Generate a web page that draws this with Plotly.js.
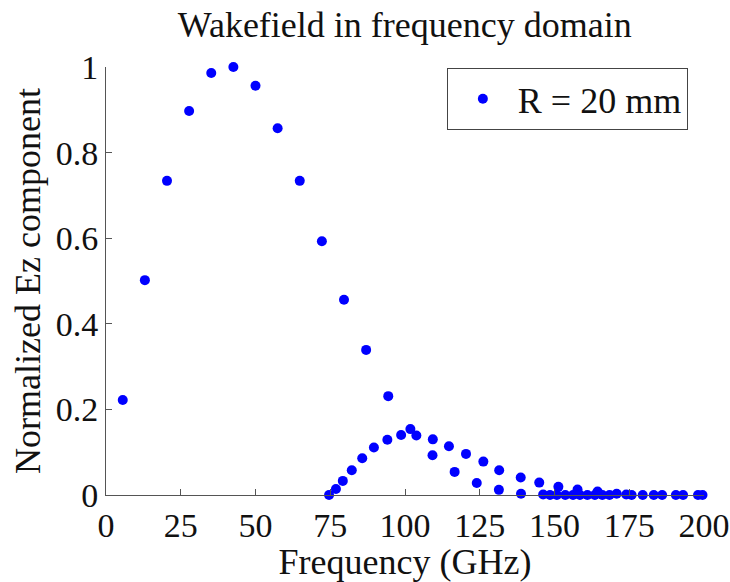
<!DOCTYPE html>
<html>
<head>
<meta charset="utf-8">
<script src="https://cdn.plot.ly/plotly-3.0.1.min.js"></script>
<style>
  html, body { margin: 0; padding: 0; background: #fff; }
  #chart { width: 730px; height: 582px; }
  #fx { position: fixed; left: 0; top: 0; width: 730px; font: 11px monospace; color: transparent; white-space: pre-wrap; pointer-events: none; }
</style>
</head>
<body>
<div id="chart"></div>
<div id="fx"></div>
<script>
// Main bell (evenly spaced frequency samples)
const freqMain = [5.6, 13.0, 20.4, 27.8, 35.2, 42.6, 50.0, 57.4, 64.8, 72.2, 79.6, 87.0, 94.4,
                  101.8, 109.2, 116.6, 124.0, 131.4, 138.8, 146.2, 153.6, 161.0, 168.4, 175.8, 183.2, 190.6, 198.0];
const valMain  = [0.222, 0.502, 0.734, 0.897, 0.986, 1.0, 0.956, 0.857, 0.734, 0.593, 0.456, 0.339, 0.231,
                  0.154, 0.093, 0.054, 0.028, 0.012, 0.003, 0.001, 0.0, 0.0, 0.0, 0.0, 0.0, 0.0, 0.0];
// Second, smaller bump starting near 75 GHz
const freqSecond = [74.6, 76.9, 79.2, 82.2, 85.7, 89.6, 94.1, 98.7, 103.8, 109.3, 114.7, 120.4, 126.2, 131.5,
                    138.7, 144.9, 151.3, 157.7, 164.4, 170.8, 174.0, 179.5, 186.0, 193.0, 199.5];
const valSecond  = [0.0, 0.014, 0.033, 0.058, 0.086, 0.111, 0.129, 0.140, 0.139, 0.130, 0.114, 0.096, 0.078, 0.058,
                    0.041, 0.029, 0.019, 0.013, 0.008, 0.003, 0.001, 0.0, 0.0, 0.0, 0.0];
// Near-zero tail points crowding the baseline
const freqTail = [148.5, 150.8, 156.2, 158.5, 163.5, 166.0];
const valTail  = [0.0, 0.0, 0.0, 0.0, 0.0, 0.0];

const xTicks = [0, 25, 50, 75, 100, 125, 150, 175, 200];
const yTicks = [0, 0.2, 0.4, 0.6, 0.8, 1];
const yTickText = ['0', '0.2', '0.4', '0.6', '0.8', '1'];

const seriesName = 'R = 20 mm';
const titleText = 'Wakefield in frequency domain';
const xTitle = 'Frequency (GHz)';
const yTitle = 'Normalized Ez component';

const FONT = 'Liberation Serif';
const axisColor = '#555';
const textColor = '#111';

const trace = {
  x: freqMain.concat(freqSecond, freqTail),
  y: valMain.concat(valSecond, valTail),
  type: 'scatter',
  mode: 'markers',
  name: seriesName,
  marker: { color: '#0000ff', size: 10 },
  cliponaxis: false,
  showlegend: true
};

const layout = {
  width: 730,
  height: 582,
  margin: { l: 106, r: 26, t: 67, b: 87, pad: 0 },
  paper_bgcolor: '#fff',
  plot_bgcolor: '#fff',
  font: { family: FONT, size: 36, color: textColor },
  title: {
    text: titleText,
    font: { family: FONT, size: 36, color: textColor },
    x: 0.5545, xanchor: 'center',
    y: 0.958, yanchor: 'middle'
  },
  xaxis: {
    range: [0, 200],
    tickvals: xTicks,
    ticktext: xTicks.map(String),
    ticks: 'inside', ticklen: 6, tickwidth: 1, tickcolor: axisColor,
    showline: true, linecolor: axisColor, linewidth: 1,
    mirror: false, showgrid: false, zeroline: false,
    tickfont: { family: FONT, size: 34, color: textColor },
    title: { text: xTitle, font: { family: FONT, size: 36, color: textColor }, standoff: 0 }
  },
  yaxis: {
    range: [0, 1],
    tickvals: yTicks,
    ticktext: yTickText,
    ticks: 'inside', ticklen: 6, tickwidth: 1, tickcolor: axisColor,
    showline: true, linecolor: axisColor, linewidth: 1,
    mirror: false, showgrid: false, zeroline: false,
    tickfont: { family: FONT, size: 34, color: textColor },
    title: { text: yTitle, font: { family: FONT, size: 36, color: textColor }, standoff: 4 }
  },
  legend: {
    x: 0.570, y: 0.998, xanchor: 'left', yanchor: 'top',
    itemwidth: 60,
    bgcolor: '#fff', bordercolor: '#444', borderwidth: 1,
    font: { family: FONT, size: 36, color: textColor }
  },
  showlegend: true
};

Plotly.newPlot('chart', [trace], layout, { displayModeBar: false }).then(function () {
  const sels = ['.gtitle', '.xtick text', '.g-xtitle text', '.legendtext', '.ytick text', '.g-ytitle text'];
  sels.forEach(function (s) {
    document.querySelectorAll(s).forEach(function (el) { void getComputedStyle(el).fontFamily; });
  });
  document.getElementById('fx').textContent = '\u200b';
});
</script>
</body>
</html>
